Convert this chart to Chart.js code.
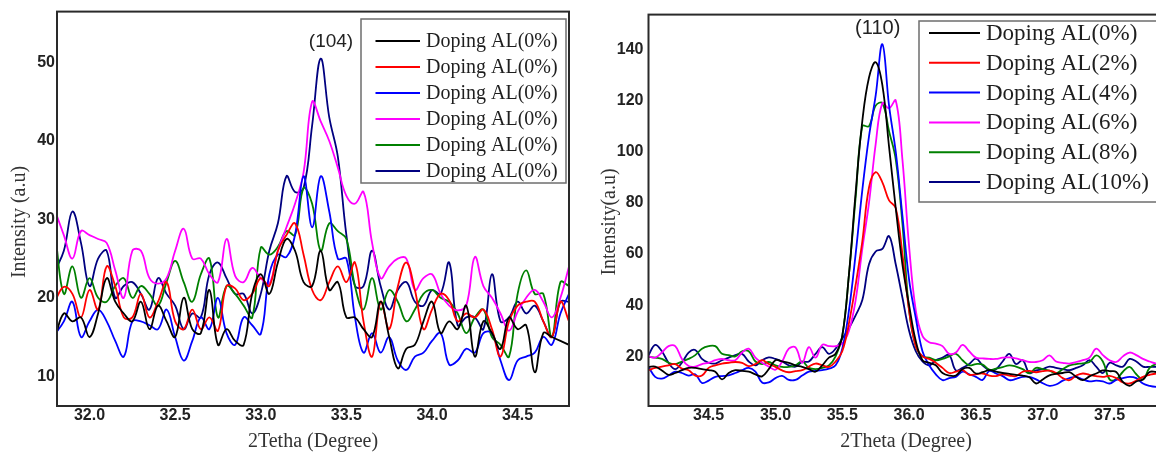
<!DOCTYPE html>
<html>
<head>
<meta charset="utf-8">
<script src="https://cdn.jsdelivr.net/npm/chart.js@4"></script>
<style>
  html, body { margin: 0; padding: 0; background: #fff; overflow: hidden; width: 1156px; height: 452px; }
  .wrap { position: absolute; top: 0; height: 452px; width: 590px; }
  #wrap-left  { left: 0; }
  #wrap-right { left: 590px; }
</style>
</head>
<body>
<div class="wrap" id="wrap-left"><canvas id="chart-left" width="590" height="452"></canvas></div>
<div class="wrap" id="wrap-right"><canvas id="chart-right" width="590" height="452"></canvas></div>
<script>
/* XRD peaks (104) and (110) for Al doped samples */

// ---- left panel: (104), sampled every 0.05 deg from 31.80 ----
const LEFT_X0 = 31.80, LEFT_STEP = 0.05;
const LEFT_LABELS = ['Doping AL(0%)', 'Doping AL(0%)', 'Doping AL(0%)', 'Doping AL(0%)', 'Doping AL(0%)', 'Doping AL(0%)'];
const LEFT_X_TICKS = [32.0, 32.5, 33.0, 33.5, 34.0, 34.5];
const LEFT_Y_TICKS = [10, 20, 30, 40, 50];

const L_BLACK = [15, 18, 17, 17.5, 15, 18, 22.5, 19.5, 18, 17,
  19.5, 16, 19, 17, 15, 20, 16, 15.5, 21, 14,
  16, 14.5, 14, 20.5, 23, 20.5, 24.5, 27.5, 26, 22,
  21.5, 26, 21, 22, 17.5, 17.5, 16, 15, 19.5, 15,
  11, 13.5, 14, 17, 19.5, 15.5, 17, 16, 19, 12.5,
  17, 15.5, 13.5, 17.5, 16, 16.5, 10.5, 15.5, 15, 14.5,
  14];
const L_RED = [19.7, 21.4, 20.5, 17.5, 21, 18.5, 24, 21.5, 17.5, 17.5,
  20.5, 17.5, 19.5, 22, 17, 16, 18.5, 16, 17.5, 15.8,
  21.5, 21.2, 19.7, 20.5, 22.5, 21.5, 26, 28, 29.5, 25.5,
  21, 19.7, 22, 24, 22, 24.5, 17, 12.5, 19.5, 16,
  21.4, 24.5, 21, 16, 18.5, 20.5, 19.7, 17, 18, 17.5,
  18.5, 16, 12.5, 17, 19, 19.5, 19.5, 17, 15, 19.5,
  17];
const L_BLUE = [15.4, 17, 19.5, 15, 17, 18.5, 17, 14.5, 12.5, 17,
  17, 16.5, 16, 18.5, 15, 12, 14.5, 17.5, 16, 20,
  15.5, 14, 17.5, 16.5, 15.4, 23, 25.5, 25.2, 28, 35.5,
  29, 35.5, 31, 25, 25, 17.5, 13, 15.5, 13, 15,
  12, 10.8, 12.5, 13, 14.5, 15.5, 11.5, 12, 13.5, 13,
  15.5, 15.5, 12, 9.5, 12, 12.5, 13, 15, 14, 18,
  20.5];
const L_MAGENTA = [31, 28, 25, 28.5, 28, 27.5, 27, 23.5, 20, 26,
  26, 22.5, 21.8, 22.5, 26, 28.8, 25, 25, 23, 22,
  27.5, 22.8, 22, 23.8, 22.5, 21.8, 26, 29, 32, 36,
  45, 42.5, 40, 36.6, 33, 32, 33.5, 27, 22.5, 24,
  25, 25, 21, 22.5, 23, 20.5, 19, 18.4, 19, 25.2,
  21.5, 20, 18, 15.8, 18.2, 20, 21, 19.5, 17.5, 20,
  24];
const L_GREEN = [28, 20.5, 24, 20, 22.5, 20, 19.5, 21.5, 22.5, 20,
  21.5, 20.5, 19, 22, 24.7, 22, 19.5, 23, 25, 17.5,
  21.5, 20.5, 19, 17.5, 26.4, 25.5, 26.5, 28.5, 28, 34,
  32, 26, 29.5, 28.5, 27.5, 21.5, 18.5, 22.5, 18.5, 21,
  19.5, 17, 18.5, 20.5, 21, 20, 19.5, 18, 15.5, 17.5,
  18.5, 15, 14, 12.5, 20.5, 23.5, 20.5, 20.5, 15, 22,
  21.5];
const L_NAVY = [23.5, 26, 31, 27, 21.5, 25, 26, 20, 21.5, 22,
  20.5, 18.5, 22.5, 20.5, 19, 16, 18, 17.5, 23, 24.5,
  22.5, 20.5, 20.5, 18, 20.5, 26, 29.5, 35.5, 33.5, 34,
  42, 50.5, 43, 38, 28, 21.5, 21.5, 26, 21.5, 18.5,
  21, 22, 19.5, 19, 21, 20.5, 24.5, 16.5, 17.5, 17.5,
  16, 23, 17, 17.5, 19.5, 18, 19, 17, 15, 19.5,
  19.5];

// ---- right panel: (110), sampled every 0.05 deg from 34.05 ----
const RIGHT_X0 = 34.05, RIGHT_STEP = 0.05;
const RIGHT_LABELS = ['Doping AL(0%)', 'Doping AL(2%)', 'Doping AL(4%)', 'Doping AL(6%)', 'Doping AL(8%)', 'Doping AL(10%)'];
const RIGHT_X_TICKS = [34.5, 35.0, 35.5, 36.0, 36.5, 37.0, 37.5];
const RIGHT_Y_TICKS = [20, 40, 60, 80, 100, 120, 140];

const R_BLACK = [15.9, 16, 14.5, 12.8, 13.5, 14.6, 15.5, 15.5, 15, 14.6,
  14, 11, 13.5, 14.6, 14.3, 14, 13, 12.2, 15, 18.5,
  18, 17.5, 16.5, 15.9, 15, 14, 16.5, 19.5, 21, 28,
  52, 84, 112, 129, 135, 126, 102, 78, 56, 40,
  26, 18.5, 17.5, 16.5, 13.5, 12.5, 12.5, 15, 15.5, 13.3,
  13.8, 14.6, 14, 13.5, 13.2, 12.8, 12.5, 11.8, 9.4, 11,
  12.6, 13.2, 13.5, 13.8, 12, 10.7, 12.2, 13.3, 14.5, 14.2,
  13.9, 10, 8.5, 10.2, 11, 13.9, 13.9, 14];
const R_RED = [14.6, 15.5, 16, 16.5, 17, 15.2, 14.6, 12.5, 12.5, 15.5,
  16.5, 17.2, 17.5, 17.8, 17.5, 16.2, 17, 18.5, 17, 15.9,
  14.5, 13.8, 14.2, 14.6, 16, 17.2, 16.5, 15.9, 18, 22,
  33, 48, 65, 86, 92, 88, 81, 78, 60, 38,
  24, 20, 19, 17.5, 15.5, 13.5, 14, 14.6, 12.8, 13,
  13.3, 12.5, 12.3, 13, 12.5, 12.3, 14, 14.3, 13.8, 14.2,
  14.4, 13.5, 11.5, 10.7, 12.5, 13.3, 12.8, 12.3, 12, 12.4,
  11.5, 9.8, 9.4, 10.5, 12, 12.8, 13.3, 13.3];
const R_BLUE = [15.9, 12, 11.3, 12.5, 14, 13.5, 12.5, 13, 9.6, 10.5,
  12, 12.3, 12.6, 13.5, 14.6, 15.5, 14, 9.8, 9.8, 11.5,
  12.4, 10.8, 10.8, 12.5, 14, 14.3, 14.6, 15.2, 16.5, 23,
  38, 60, 85, 106, 122, 142, 118, 100, 75, 50,
  35, 22, 16.5, 13, 10.7, 11.5, 12, 14, 13, 12,
  10.8, 14.3, 13.3, 12.3, 10.7, 11.2, 12, 12, 11, 9.5,
  8.5, 9, 10.5, 11.5, 12, 11, 10.2, 10.5, 10.2, 9.4,
  10.8, 11.5, 12, 11.5, 9.4, 8.5, 8.1, 8.1];
const R_MAGENTA = [20, 19.5, 21.5, 24, 24, 19, 16.2, 16, 17, 17.5,
  18.5, 19, 18.5, 18.5, 21.5, 23, 19.5, 17.5, 16, 14.8,
  18, 23, 23.5, 17.5, 23.6, 19.5, 24.5, 24, 24, 25,
  30, 42, 62, 80, 103, 119, 117, 120, 97, 63,
  38, 28, 25.5, 25, 24, 21, 21.5, 24.5, 22, 19.5,
  19.2, 19, 19, 19.5, 19.6, 19.2, 18.5, 17.8, 17.8, 18.5,
  20.4, 18, 17.5, 17.2, 17.8, 18.5, 19.5, 23, 20.5, 18.5,
  17.8, 20, 21.5, 20.5, 19, 18, 17.2, 17];
const R_GREEN = [19.8, 19.5, 19, 17.5, 17, 18, 19, 20.5, 23, 24,
  24, 21, 20.5, 20, 22, 22, 18, 17, 17.8, 16.5,
  15.9, 15.9, 16.5, 18, 15.5, 15, 15.5, 16.5, 20, 28,
  52, 82, 110, 110, 118, 119, 108, 97, 72, 38,
  24, 20, 19.5, 18.5, 19, 20, 21, 18.5, 16.5, 17,
  16.8, 14.8, 15.2, 15.8, 16.5, 16, 15, 13.4, 15.5, 15,
  14.4, 13.4, 15, 16.5, 17, 17.3, 17.8, 20.4, 18, 11,
  11, 14, 15.9, 13, 11, 15.5, 17, 17.2];
const R_NAVY = [20.4, 24.5, 22, 17.5, 15, 17.5, 21.5, 22.5, 19, 17.5,
  17.2, 18.5, 19.5, 20.5, 21, 18, 16.5, 18.5, 19.6, 19,
  18, 16.5, 16, 17.8, 18, 21, 23.6, 21, 23, 27,
  31, 36, 42, 56, 61, 62, 67, 56, 43, 30,
  22, 18, 16.5, 18.5, 19.5, 20.5, 14.5, 15.5, 17, 19.1,
  16.5, 14.6, 15, 18, 21, 17, 18.5, 13.5, 14.5, 15,
  16, 15.5, 15, 14.6, 15.5, 16.5, 18.5, 16, 13.5, 17.5,
  16.5, 16, 19, 18, 16, 15.9, 15.9, 16];

const COLORS = ['#000000', '#ff0000', '#0000ff', '#ff00ff', '#008000', '#000080'];

const TICK_FONT = { family: "'Liberation Sans', Arial, sans-serif", size: 16, weight: 'bold' };
const SERIF = "'Liberation Serif', 'Times New Roman', serif";

function toPoints(values, x0, step) {
  return values.map((y, i) => ({ x: +(x0 + i * step).toFixed(3), y }));
}

function mkDataset(label, values, color, x0, step) {
  return {
    label,
    data: toPoints(values, x0, step),
    borderColor: color,
    backgroundColor: color,
    borderWidth: 1.8,
    pointRadius: 0,
    tension: 0.4,
    fill: false,
  };
}

// frame, peak label, boxed legend and axis titles
const decor = {
  id: 'decor',
  afterDraw(chart, args, o) {
    const { ctx, chartArea: a } = chart;
    ctx.save();
    ctx.strokeStyle = '#2a2a2a';
    ctx.lineWidth = 2;
    ctx.strokeRect(a.left, a.top, a.right - a.left, a.bottom - a.top);

    ctx.fillStyle = '#222';
    ctx.font = o.peakFont;
    ctx.textAlign = 'center';
    ctx.textBaseline = 'middle';
    ctx.fillText(o.peak.text, chart.scales.x.getPixelForValue(o.peak.x), chart.scales.y.getPixelForValue(o.peak.y));

    const L = o.legend;
    ctx.fillStyle = '#fff';
    ctx.fillRect(L.x, L.y, L.w, L.h);
    ctx.strokeStyle = '#6e6e6e';
    ctx.lineWidth = 1.5;
    ctx.strokeRect(L.x, L.y, L.w, L.h);
    ctx.font = L.font;
    ctx.textAlign = 'left';
    chart.data.datasets.forEach((ds, i) => {
      const y = L.y + L.first + i * L.gap;
      ctx.strokeStyle = ds.borderColor;
      ctx.lineWidth = 2;
      ctx.beginPath();
      ctx.moveTo(L.x + L.line0, y);
      ctx.lineTo(L.x + L.line1, y);
      ctx.stroke();
      ctx.fillStyle = '#1e1e1e';
      ctx.fillText(ds.label, L.x + L.text, y + 1);
    });

    ctx.fillStyle = '#333';
    ctx.font = '20px ' + SERIF;
    ctx.textAlign = 'center';
    ctx.fillText(o.xTitle.text, o.xTitle.x, o.xTitle.y);
    ctx.translate(o.yTitle.x, o.yTitle.y);
    ctx.rotate(-Math.PI / 2);
    ctx.fillText(o.yTitle.text, 0, 0);
    ctx.restore();
  }
};

function makeChart(id, cfg) {
  return new Chart(document.getElementById(id), {
    type: 'line',
    data: { datasets: cfg.datasets },
    plugins: [decor],
    options: {
      responsive: false,
      animation: false,
      layout: { padding: cfg.padding },
      plugins: {
        legend: { display: false },
        tooltip: { enabled: false },
        decor: cfg.decor,
      },
      scales: {
        x: {
          type: 'linear',
          min: cfg.xMin, max: cfg.xMax,
          grid: { display: false, drawTicks: false },
          border: { display: false },
          ticks: { font: TICK_FONT, color: '#222', padding: 0, maxRotation: 0, callback: v => v.toFixed(1) },
          afterBuildTicks: s => { s.ticks = cfg.xTicks.map(v => ({ value: v })); },
          afterFit: s => { s.height = 46; },
        },
        y: {
          min: cfg.yMin, max: cfg.yMax,
          grid: { display: false, drawTicks: false },
          border: { display: false },
          ticks: { font: TICK_FONT, color: '#222', padding: cfg.yPad },
          afterBuildTicks: s => { s.ticks = cfg.yTicks.map(v => ({ value: v })); },
          afterFit: s => { s.width = cfg.yWidth; },
        },
      },
    },
  });
}

const leftSeries  = [L_BLACK, L_RED, L_BLUE, L_MAGENTA, L_GREEN, L_NAVY];
const rightSeries = [R_BLACK, R_RED, R_BLUE, R_MAGENTA, R_GREEN, R_NAVY];

makeChart('chart-left', {
  datasets: leftSeries.map((v, i) => mkDataset(LEFT_LABELS[i], v, COLORS[i], LEFT_X0, LEFT_STEP)),
  padding: { top: 10, right: 21, left: 0, bottom: 0 },
  xMin: 31.81, xMax: 34.80, yMin: 6.2, yMax: 56.5,
  xTicks: LEFT_X_TICKS, yTicks: LEFT_Y_TICKS,
  yWidth: 57, yPad: 2,
  decor: {
    peak: { text: '(104)', x: 33.41, y: 52.6 },
    peakFont: "19px 'Liberation Sans', Arial, sans-serif",
    legend: { x: 361, y: 19, w: 205, h: 164, first: 22, gap: 26, line0: 14.5, line1: 59, text: 65,
              font: '20px ' + SERIF },
    xTitle: { text: '2Tetha (Degree)', x: 313, y: 442 },
    yTitle: { text: 'Intensity (a.u)', x: 20, y: 222 },
  },
});

makeChart('chart-right', {
  datasets: rightSeries.map((v, i) => mkDataset(RIGHT_LABELS[i], v, COLORS[i], RIGHT_X0, RIGHT_STEP)),
  padding: { top: 12, right: 17, left: 0, bottom: 0 },
  xMin: 34.05, xMax: 37.90, yMin: 0.6, yMax: 153.6,
  xTicks: RIGHT_X_TICKS, yTicks: RIGHT_Y_TICKS,
  yWidth: 58.5, yPad: 5,
  decor: {
    peak: { text: '(110)', x: 35.765, y: 148.2 },
    peakFont: "20px 'Liberation Sans', Arial, sans-serif",
    legend: { x: 329, y: 21, w: 300, h: 181, first: 12, gap: 29.8, line0: 10, line1: 61, text: 67,
              font: '23px ' + SERIF },
    xTitle: { text: '2Theta (Degree)', x: 316, y: 442 },
    yTitle: { text: 'Intensity(a.u)', x: 20, y: 222 },
  },
});
</script>
</body>
</html>
